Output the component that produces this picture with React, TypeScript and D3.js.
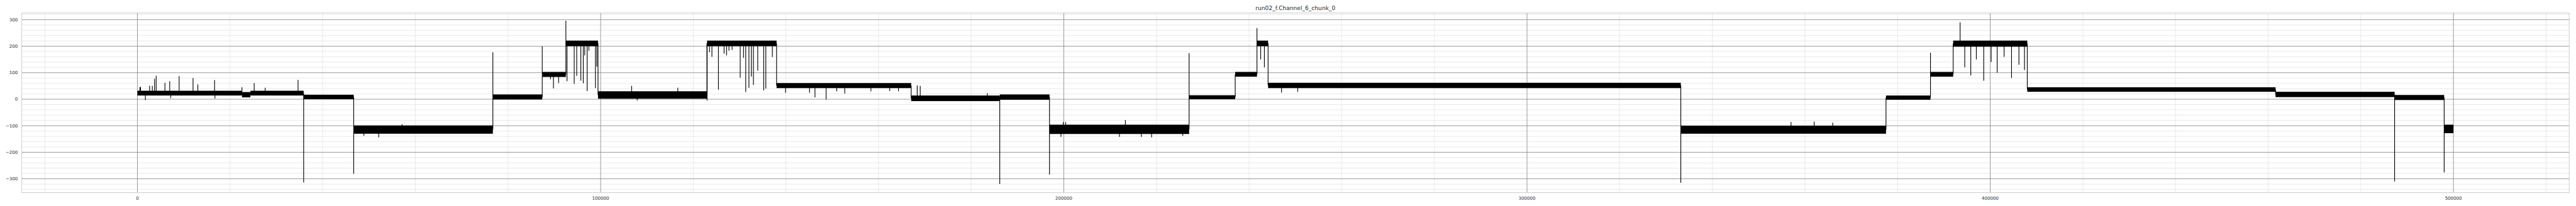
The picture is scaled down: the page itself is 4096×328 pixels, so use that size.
import React, { useEffect, useRef } from 'react';
import * as d3 from 'd3';

const title = 'run02_f.Channel_6_chunk_0';

// current levels: sample range and the low / high edge of the noise band
const segStart = [0, 22570, 24390, 35890, 46700, 76740, 87400, 92500, 99440, 122980, 137990, 167050, 186170, 196910, 227050, 237000, 241700, 244100, 333200, 377500, 387100, 392000, 408000, 461600, 487300, 498000];
const segEnd = [22570, 24390, 35890, 46700, 76740, 87400, 92500, 99440, 122980, 137990, 167050, 186170, 196910, 227050, 237000, 241700, 244100, 333200, 377500, 387100, 392000, 408000, 461600, 487300, 498000, 500000];
const segLow = [14, 7, 14, 0, -130, -1, 84, 200, 2, 200, 42, -7, -2, -131, 0, 85, 200, 42, -130, -2, 85, 198, 28, 8, -3, -128];
const segHigh = [32, 27, 32, 17, -99, 18, 103, 221, 30, 221, 61, 14, 18, -96, 15, 103, 221, 62, -100, 14, 103, 221, 45, 28, 16, -96];

// short excursions out of the band
const spikeX = [670, 540, 2630, 3220, 3700, 4050, 5940, 6970, 9010, 12010, 13040, 16660, 22570, 25210, 27580, 34680, 1720, 7200, 16740,
  35890, 46700, 48900, 52090, 57140, 76740, 87400, 89190, 89820, 90930, 92500,
  92740, 94300, 94840, 95730, 96260, 96570, 97090, 97460, 98880, 99190,
  106700, 116670, 107900, 122980,
  123500, 124030, 125440, 126660, 127190, 127710, 128390, 130140, 130860, 131330, 132020, 132540, 132990, 133920, 135220, 135670, 137080,
  139930, 145110, 146280, 148680, 150980, 152700, 158360, 162410, 164300,
  168350, 169000, 183490, 186170, 196910,
  199380, 199900, 200400, 212010, 213290, 216750, 218950, 225680, 227050,
  241700, 242500, 243300, 247000, 250500, 333200, 357000, 362000, 366000, 387100, 393500,
  394500, 395800, 397000, 398600, 400200, 401500, 403000, 404600, 406200, 407400, 487300, 498000];
const spikeY = [47, 45, 51, 50, 77, 88, 62, 68, 87, 80, 56, 72, 45, 61, 43, 73, -3, 4, 3,
  -314, -281, -138, -144, -94, 177, 199, 75, 41, 61, 296,
  68, 58, 88, 70, 60, 165, 31, 183, 42, 123,
  50, 43, -5, -5,
  177, 160, 36, 172, 165, 183, 186, 81, 156, 27, 43, 85, 54, 108, 33, 40, 159,
  24, 24, 7, -1, 30, 21, 30, 31, 30,
  52, 50, 23, -320, -284,
  -142, -86, -86, -142, -78, -142, -144, -138, 174,
  268, 150, 120, 25, 28, -315, -86, -84, -88, 175, 290,
  120, 90, 150, 70, 140, 100, 160, 80, 130, 110, -310, -276];

const xTicks = [0, 100000, 200000, 300000, 400000, 500000];
const yTicks = [-300, -200, -100, 0, 100, 200, 300];

const k = 4096 / 5400;

export default function App() {
  const ref = useRef<SVGSVGElement>(null);

  useEffect(() => {
    const svg = d3.select(ref.current);
    svg.selectAll('*').remove();

    const x = d3.scaleLinear().domain([-25000, 525000]).range([45.3 * k, 5385.8 * k]);
    const y = d3.scaleLinear().domain([-352.1, 325.1]).range([404.3 * k, 27.3 * k]);
    const [x0, x1] = x.range();
    const [y0, y1] = y.range();

    // minor grid
    const minorX = d3.range(-20000, 525000, 20000).filter(v => v % 100000 !== 0);
    const minorY = d3.range(-340, 325, 20).filter(v => v % 100 !== 0);
    const g = svg.append('g');
    g.selectAll('.mx').data(minorX).enter().append('line')
      .attr('x1', d => x(d)).attr('x2', d => x(d)).attr('y1', y1).attr('y2', y0)
      .attr('stroke', '#e3e3e3').attr('stroke-width', 0.8);
    g.selectAll('.my').data(minorY).enter().append('line')
      .attr('x1', x0).attr('x2', x1).attr('y1', d => y(d)).attr('y2', d => y(d))
      .attr('stroke', '#e3e3e3').attr('stroke-width', 0.8);
    // major grid
    g.selectAll('.gx').data(xTicks).enter().append('line')
      .attr('x1', d => x(d)).attr('x2', d => x(d)).attr('y1', y1).attr('y2', y0)
      .attr('stroke', '#808080').attr('stroke-width', 0.8);
    g.selectAll('.gy').data(yTicks).enter().append('line')
      .attr('x1', x0).attr('x2', x1).attr('y1', d => y(d)).attr('y2', d => y(d))
      .attr('stroke', '#808080').attr('stroke-width', 0.8);

    const mid = (i: number) => (segLow[i] + segHigh[i]) / 2;
    const lw = 1.5 * k;

    // noise bands
    svg.append('g').selectAll('rect').data(segStart).enter().append('rect')
      .attr('x', (d, i) => x(d))
      .attr('width', (d, i) => x(segEnd[i]) - x(d))
      .attr('y', (d, i) => y(segHigh[i]))
      .attr('height', (d, i) => y(segLow[i]) - y(segHigh[i]))
      .attr('fill', '#000');

    // steps between levels
    const steps = segStart.slice(1).map((s, i) => ({ s, a: mid(i), b: mid(i + 1) }));
    svg.append('g').selectAll('line').data(steps).enter().append('line')
      .attr('x1', d => x(d.s)).attr('x2', d => x(d.s))
      .attr('y1', d => y(d.a)).attr('y2', d => y(d.b))
      .attr('stroke', '#000').attr('stroke-width', lw);

    // spikes from the level they sit on
    const bis = d3.bisector((d: number) => d).right;
    svg.append('g').selectAll('line').data(spikeX).enter().append('line')
      .attr('x1', d => x(d)).attr('x2', d => x(d))
      .attr('y1', d => y(mid(Math.max(0, bis(segStart, d) - 1))))
      .attr('y2', (d, i) => y(spikeY[i]))
      .attr('stroke', '#000').attr('stroke-width', lw);

    // spines
    svg.append('rect').attr('x', x0).attr('y', y1).attr('width', x1 - x0).attr('height', y0 - y1)
      .attr('fill', 'none').attr('stroke', '#cccccc').attr('stroke-width', 1);

    const font = 'DejaVu Sans, sans-serif';
    svg.append('g').selectAll('text').data(xTicks).enter().append('text')
      .attr('x', d => x(d)).attr('y', 419 * k)
      .attr('text-anchor', 'middle').attr('font-family', font).attr('font-size', 9.3 * k)
      .attr('fill', '#262626').text(d => String(d));
    svg.append('g').selectAll('text').data(yTicks).enter().append('text')
      .attr('x', 37.3 * k).attr('y', d => y(d)).attr('dy', '0.35em')
      .attr('text-anchor', 'end').attr('font-family', font).attr('font-size', 9.3 * k)
      .attr('fill', '#262626').text(d => (d < 0 ? '\u2212' + Math.abs(d) : String(d)));

    svg.append('text').attr('x', (x0 + x1) / 2).attr('y', 21.7 * k)
      .attr('text-anchor', 'middle').attr('font-family', font).attr('font-size', 12 * k)
      .attr('fill', '#262626').text(title);
  }, []);

  return (
    <svg ref={ref} width={4096} height={328}
      style={{ position: 'absolute', left: 0, top: 0, background: '#fff' }} />
  );
}
